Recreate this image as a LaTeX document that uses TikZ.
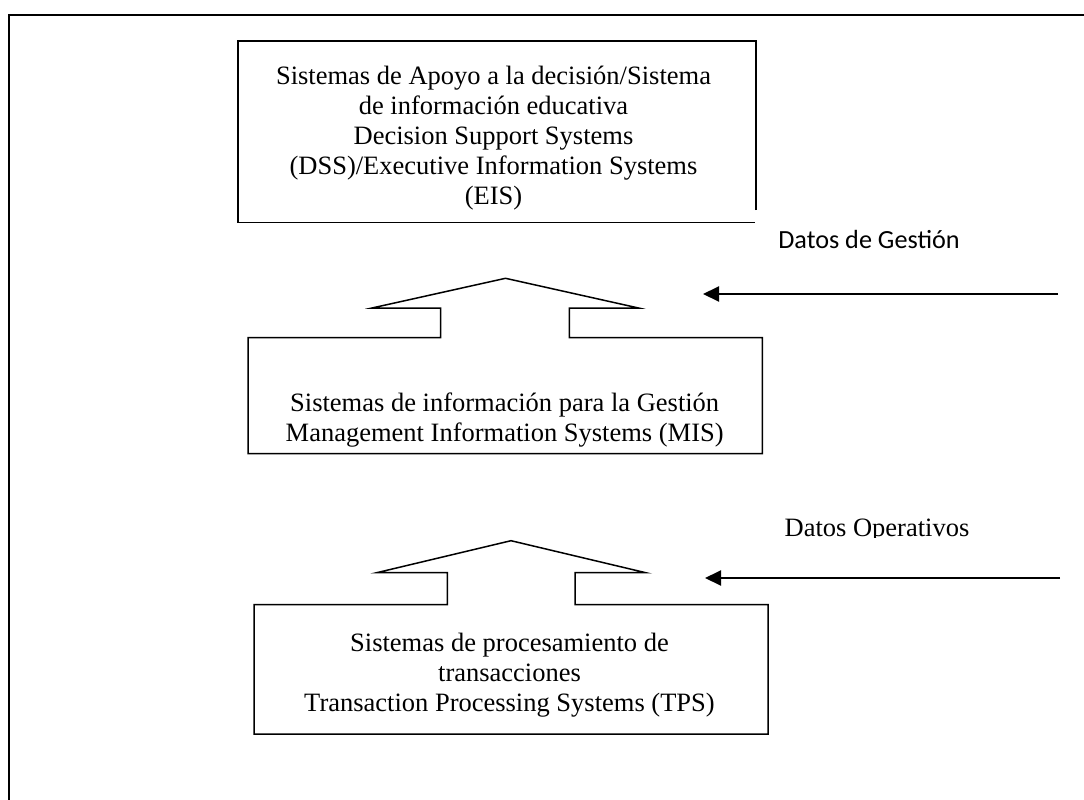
\documentclass[tikz,border=0pt]{standalone}
\usepackage{fontspec}
\setmainfont{Liberation Serif}
\newfontfamily\calfont{Carlito}
\usetikzlibrary{arrows.meta}
\tikzset{
  boxline/.style={line width=1.5pt, line join=miter},
  frameline/.style={line width=1.7pt},
  flowarrow/.style={line width=2pt, -{Triangle[length=16pt,width=15pt]}},
  boxtext/.style={align=center, inner sep=0pt, anchor=north, font=\fontsize{26.5}{30}\selectfont},
  sidelabel/.style={inner sep=0pt, anchor=base}
}
\begin{document}
\begin{tikzpicture}[x=1pt,y=-1pt]
\useasboundingbox (0,0) rectangle (1084,800);
% outer frame (only top and left edges visible)
\draw[frameline] (9,800) -- (9,15) -- (1084,15);
% EIS box
\draw[boxline] (756,210) -- (756,41) -- (238,41) -- (238,222.7) -- (755,222.7);
\node[boxtext] (eis) at (493.5,66) {Sistemas de Apoyo a la decisión/Sistema\\de información educativa\\Decision Support Systems\\(DSS)/Executive Information Systems\\(EIS)};
% MIS box with block arrow
\draw[boxline] (372,308) -- (505.5,278.3) -- (638.5,308) -- (569.3,308) -- (569.3,337.7) -- (762.3,337.7) -- (762.3,453.5) -- (248,453.5) -- (248,337.7) -- (440.7,337.7) -- (440.7,308) -- cycle;
\node[boxtext] (mis) at (504.7,393) {Sistemas de información para la Gestión\\Management Information Systems (MIS)};
% TPS box with block arrow
\draw[boxline] (376.7,572.7) -- (511,540.7) -- (645.7,572.7) -- (575,572.7) -- (575,604.5) -- (768,604.5) -- (768,734) -- (254,734) -- (254,604.5) -- (447.3,604.5) -- (447.3,572.7) -- cycle;
\node[boxtext] (tps) at (509.5,632.6) {Sistemas de procesamiento de\\transacciones\\Transaction Processing Systems (TPS)};
% side labels
\node[sidelabel, font=\calfont\fontsize{26.2}{30}\selectfont] (gest) at (869,248) {Datos de Gestión};
\begin{scope}
\clip (700,500) rectangle (1000,537.5);
\node[sidelabel, font=\fontsize{26.5}{30}\selectfont] (oper) at (877,536.7) {Datos Operativos};
\end{scope}
% data arrows
\coordinate (g1) at (1058,294);
\coordinate (g2) at (703,294);
\coordinate (o1) at (1060,578);
\coordinate (o2) at (705,578);
\draw[flowarrow] (g1) -- (g2);
\draw[flowarrow] (o1) -- (o2);
\end{tikzpicture}
\end{document}
